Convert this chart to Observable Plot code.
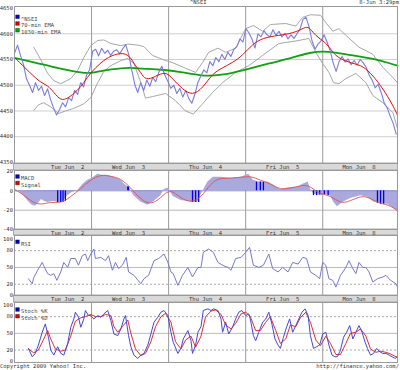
<!DOCTYPE html>
<html><head><meta charset="utf-8">
<script src="https://cdn.jsdelivr.net/npm/d3@7"></script>
<script src="https://cdn.jsdelivr.net/npm/@observablehq/plot@0.6"></script>
<style>
body{margin:0;background:#fff;}
#chart{position:relative;width:400px;height:370px;overflow:hidden;font-family:"DejaVu Sans Mono",monospace;font-size:5.5px;color:#333;background:#fff;}
#chart svg{position:absolute;left:0;}
.t{position:absolute;white-space:nowrap;line-height:6px;}
</style></head><body><div id="chart"></div>
<script>
// ---- time axis (trading days since Tue Jun 2 open) ----
const dayBounds = [1, 2, 3, 4];
const dayTicks = [0.69, 1.48, 2.48, 3.48, 4.47];
const dayLabels = ["Tue Jun  2", "Wed Jun  3", "Thu Jun  4", "Fri Jun  5", "Mon Jun  8"];

// ---- price (^NSEI), sampled at a regular step ----
const priceStep = 0.039;
const priceValues = [4562,4578,4558,4540,4512,4500,4486,4505,4490,4498,4480,4493,4472,4456,4442,4453,4466,4458,4476,4470,
4490,4482,4505,4497,4520,4530,4566,4570,4557,4572,4562,4568,4558,4566,4569,4561,4571,4579,4560,4530,
4502,4486,4505,4490,4510,4498,4515,4507,4525,4537,4520,4508,4494,4500,4484,4494,4477,4490,4474,4465,
4482,4505,4518,4530,4524,4546,4538,4554,4546,4560,4550,4564,4556,4570,4575,4590,4584,4610,4602,4590,
4572,4600,4594,4606,4598,4594,4608,4597,4605,4594,4601,4590,4598,4591,4600,4609,4628,4632,4614,4586,
4570,4580,4586,4598,4584,4568,4544,4527,4546,4556,4545,4551,4540,4548,4539,4550,4544,4535,4520,4510,
4495,4502,4486,4466,4456,4440,4426,4405];

const ema70 = [[0,4554],[.21,4523],[.34,4505],[.43,4500],[.51,4486],[.60,4470],[.69,4474],[.82,4490],[.90,4505],[.99,4525],
[1.12,4544],[1.25,4558],[1.42,4564],[1.51,4554],[1.57,4537],[1.64,4525],[1.70,4509],[1.83,4517],[1.96,4527],[2.05,4513],
[2.18,4492],[2.31,4480],[2.44,4494],[2.57,4523],[2.70,4534],[2.83,4544],[2.96,4558],[3.09,4580],[3.22,4592],[3.43,4597],
[3.61,4601],[3.74,4610],[3.81,4615],[3.87,4603],[3.95,4591],[4.04,4583],[4.13,4564],[4.21,4552],[4.39,4542],[4.52,4538],
[4.65,4519],[4.78,4494],[4.91,4461],[4.97,4442]];

const ema1030 = [[0,4553],[.25,4545],[.51,4535],[.77,4527],[.95,4523],[1.03,4525],[1.25,4531],[1.51,4535],[1.64,4532],[1.90,4531],
[2.19,4525],[2.42,4518],[2.68,4519],[2.97,4529],[3.29,4542],[3.62,4554],[3.84,4564],[4.01,4566],[4.14,4564],[4.39,4558],
[4.66,4552],[4.97,4538]];

const bandUpper = [[.25,4574],[.34,4550],[.43,4523],[.51,4509],[.60,4503],[.73,4513],[.82,4529],[.90,4554],[.99,4577],[1.08,4587],
[1.16,4588],[1.25,4581],[1.38,4577],[1.47,4580],[1.60,4578],[1.68,4575],[1.79,4558],[1.96,4548],[2.05,4544],[2.22,4533],
[2.35,4525],[2.44,4544],[2.52,4564],[2.64,4572],[2.74,4564],[2.87,4572],[3.00,4610],[3.10,4616],[3.22,4605],[3.32,4618],
[3.52,4620],[3.65,4615],[3.74,4632],[3.84,4637],[3.97,4636],[4.05,4620],[4.13,4605],[4.21,4610],[4.30,4597],[4.47,4574],
[4.65,4560],[4.78,4535],[4.91,4515],[4.97,4505]];

const bandLower = [[.25,4451],[.31,4462],[.38,4466],[.47,4458],[.57,4445],[.66,4450],[.77,4455],[.90,4464],[.99,4476],[1.08,4505],
[1.16,4527],[1.25,4538],[1.38,4548],[1.47,4552],[1.55,4542],[1.64,4505],[1.70,4475],[1.79,4478],[1.96,4484],[2.09,4470],
[2.22,4450],[2.32,4444],[2.44,4464],[2.57,4486],[2.70,4505],[2.87,4525],[3.04,4538],[3.22,4558],[3.43,4581],[3.69,4587],
[3.82,4591],[3.91,4564],[4.00,4542],[4.08,4525],[4.14,4505],[4.21,4503],[4.30,4513],[4.43,4523],[4.56,4505],[4.65,4480],
[4.78,4466],[4.91,4447],[4.97,4416]];

const mainTicks = [4350, 4400, 4450, 4500, 4550, 4600, 4650];
const mainGrid = [4400, 4450, 4500, 4550, 4600];

// ---- MACD ----
const macd = [[0,2],[.05,0],[.12,-5],[.18,-11],[.23,-15],[.27,-16],[.31,-13],[.35,-9],[.39,-11],[.43,-12],
[.51,-11],[.56,-12],[.62,-12],[.69,-5],[.75,-1.5],[.82,0],[.88,6],[.95,11],[1.01,13],[1.08,17],
[1.14,16],[1.21,16],[1.29,14],[1.38,11],[1.44,6],[1.48,4],[1.51,0],[1.55,-5],[1.64,-11.5],[1.73,-15],
[1.81,-11],[1.90,-5],[1.94,1],[1.99,3],[2.03,-2],[2.06,-6],[2.16,-10],[2.25,-11],[2.31,-12],[2.38,-12],
[2.42,-4],[2.51,9],[2.58,14],[2.68,14],[2.81,13],[2.94,14],[3.04,17],[3.10,11],[3.17,9],[3.23,9],
[3.29,9],[3.36,6],[3.45,1],[3.55,3],[3.68,4],[3.75,7],[3.81,9],[3.84,2],[3.88,-3],[3.97,-5],
[4.06,-4],[4.10,-5],[4.14,-11.5],[4.19,-16.5],[4.27,-11.5],[4.36,-8],[4.49,-5],[4.58,-6.5],[4.66,-11.5],[4.75,-13],
[4.84,-14],[4.92,-18],[4.97,-22]];
const macdBars = [[.56,-12],[.60,-12],[.63,-12],[.66,-11],[1.47,4],[1.48,4],[2.31,-12],[2.35,-12],[2.39,-12],
[3.14,9],[3.19,9],[3.23,9],[3.88,-5],[3.92,-5],[3.96,-4],[4.02,-4],[4.07,-5],[4.71,-13],[4.75,-14],[4.79,-14]];
const signal = [[0,1],[.08,-2],[.14,-6],[.21,-10],[.27,-13],[.34,-14],[.40,-13],[.47,-12],[.53,-12],[.60,-12],
[.66,-10],[.73,-6],[.79,-2],[.86,2],[.92,7],[.99,11],[1.05,14],[1.12,16],[1.18,16],[1.25,15],
[1.31,14],[1.38,12],[1.44,8],[1.51,3],[1.57,-3],[1.64,-8],[1.70,-12],[1.77,-13],[1.83,-11],[1.90,-7],
[1.96,-2],[2.03,0],[2.09,-3],[2.16,-7],[2.22,-10],[2.29,-11],[2.35,-10],[2.42,-6],[2.48,0],[2.55,7],
[2.61,11],[2.68,13],[2.81,13],[2.94,14],[3.06,15],[3.13,13],[3.19,11],[3.26,9],[3.32,7],[3.39,4],
[3.45,2],[3.52,2],[3.58,3],[3.65,4],[3.71,5],[3.78,6],[3.84,4],[3.91,0],[3.97,-3],[4.04,-4],
[4.10,-6],[4.17,-9],[4.23,-12],[4.30,-12],[4.36,-10],[4.43,-8],[4.49,-6],[4.56,-6],[4.62,-8],[4.69,-11],
[4.75,-13],[4.82,-14],[4.88,-16],[4.95,-19],[4.97,-21]];
const macdTicks = [20, 0, -20, -40];

// ---- RSI ----
const rsi = [[.18,30],[.23,21],[.25,32],[.30,45],[.36,59],[.38,53],[.43,39],[.47,36],[.51,39],[.55,27],
[.60,42],[.64,59],[.69,50],[.73,66],[.79,66],[.83,54],[.88,71],[.92,74],[.95,62],[.99,74],
[1.03,83],[1.05,66],[1.12,68],[1.18,62],[1.22,71],[1.27,45],[1.31,59],[1.35,48],[1.40,54],[1.45,68],
[1.48,42],[1.55,36],[1.64,21],[1.68,30],[1.74,36],[1.81,62],[1.87,66],[1.94,74],[1.99,59],[2.03,42],
[2.06,39],[2.12,18],[2.18,36],[2.25,50],[2.31,33],[2.38,50],[2.42,50],[2.45,77],[2.52,83],[2.58,77],
[2.64,59],[2.70,54],[2.77,50],[2.81,45],[2.87,66],[2.94,68],[3.00,77],[3.05,86],[3.10,54],[3.17,50],
[3.23,54],[3.30,74],[3.35,48],[3.42,42],[3.48,50],[3.55,42],[3.61,59],[3.68,56],[3.74,68],[3.79,66],
[3.84,42],[3.91,36],[3.96,30],[4.00,59],[4.04,54],[4.08,30],[4.13,27],[4.17,15],[4.23,36],[4.30,50],
[4.34,62],[4.39,48],[4.43,39],[4.47,59],[4.52,50],[4.56,50],[4.60,42],[4.65,24],[4.71,30],[4.78,33],
[4.82,36],[4.88,27],[4.95,21],[4.97,15]];
const oscTicks = [0, 20, 50, 80, 100];

// ---- Stochastics ----
const stochK = [[.18,23],[.23,8],[.27,14],[.31,29],[.36,52],[.40,67],[.44,43],[.47,20],[.51,11],[.56,26],
[.60,14],[.64,11],[.69,32],[.73,61],[.77,76],[.79,88],[.83,79],[.86,61],[.90,76],[.92,91],
[.96,82],[.99,82],[1.03,76],[1.08,82],[1.12,79],[1.16,85],[1.21,91],[1.25,73],[1.29,49],[1.34,46],
[1.38,58],[1.42,76],[1.44,82],[1.48,46],[1.51,26],[1.55,11],[1.60,5],[1.64,11],[1.68,14],[1.73,29],
[1.77,49],[1.81,70],[1.86,79],[1.90,88],[1.94,91],[1.99,82],[2.03,52],[2.06,34],[2.12,14],[2.16,23],
[2.19,40],[2.25,55],[2.29,37],[2.31,14],[2.35,29],[2.38,52],[2.42,62],[2.45,91],[2.51,94],[2.55,91],
[2.58,94],[2.64,91],[2.68,76],[2.70,52],[2.74,70],[2.78,49],[2.83,61],[2.87,76],[2.91,88],[2.95,91],
[3.00,82],[3.04,85],[3.06,76],[3.10,46],[3.13,37],[3.17,52],[3.22,70],[3.26,76],[3.30,88],[3.34,67],
[3.38,40],[3.42,29],[3.45,23],[3.49,43],[3.53,61],[3.57,76],[3.61,52],[3.65,64],[3.69,76],[3.73,88],
[3.77,94],[3.81,82],[3.84,46],[3.88,23],[3.92,26],[3.96,29],[4.00,49],[4.04,52],[4.08,29],[4.12,11],
[4.16,8],[4.19,8],[4.23,20],[4.27,43],[4.31,52],[4.35,64],[4.39,40],[4.43,52],[4.47,64],[4.51,52],
[4.55,34],[4.58,23],[4.62,11],[4.66,14],[4.70,23],[4.74,17],[4.78,14],[4.82,14],[4.86,11],[4.90,8],
[4.94,5],[4.97,8]];
const stochD = [[.18,22],[.25,15],[.31,20],[.38,40],[.43,55],[.47,40],[.53,22],[.60,18],[.66,20],[.73,45],
[.79,72],[.86,78],[.92,80],[.99,84],[1.05,80],[1.12,80],[1.18,84],[1.25,82],[1.29,62],[1.34,52],
[1.40,62],[1.47,74],[1.51,50],[1.57,22],[1.64,10],[1.70,14],[1.77,35],[1.83,62],[1.90,80],[1.96,86],
[2.03,70],[2.09,35],[2.16,22],[2.22,38],[2.29,45],[2.35,25],[2.42,45],[2.48,80],[2.55,90],[2.61,92],
[2.68,84],[2.74,65],[2.81,58],[2.87,68],[2.94,85],[3.00,88],[3.06,80],[3.13,55],[3.19,55],[3.26,70],
[3.32,80],[3.39,55],[3.45,32],[3.52,40],[3.58,65],[3.65,62],[3.71,78],[3.78,88],[3.84,70],[3.91,38],
[3.97,28],[4.04,45],[4.10,32],[4.17,12],[4.23,12],[4.30,32],[4.36,50],[4.43,52],[4.49,58],[4.56,45],
[4.62,22],[4.69,16],[4.75,18],[4.82,16],[4.88,13],[4.95,8],[4.97,8]];

// ---------------------------------------------------------------
const chart = document.getElementById("chart");
const price = priceValues.map((v, i) => [i * priceStep, v]);
const X = d => d[0], Y = d => d[1];
const STYLE = {fontFamily: '"DejaVu Sans Mono", monospace', fontSize: "5.5px", color: "#333", background: "transparent", overflow: "visible"};
const fmt = d => String(d);

function legend(items) {
  const marks = [];
  items.forEach(([label, color, dy]) => {
    marks.push(Plot.dot([label], {frameAnchor: "top-left", dx: 3, dy, symbol: "square", r: 2.1, fill: color, stroke: "#222", strokeWidth: 0.4}));
    marks.push(Plot.text([label], {frameAnchor: "top-left", dx: 6.5, dy, textAnchor: "start", fill: "#444"}));
  });
  return marks;
}
const dayGrid = Plot.ruleX(dayBounds, {stroke: "#9a9a9a", strokeWidth: 1});
const dayAxis = Plot.axisX({ticks: dayTicks, tickFormat: d => dayLabels[dayTicks.indexOf(d)], tickSize: 0, tickPadding: 1.2, anchor: "bottom", label: null, fill: "#333"});

function panel({top, height, marginTop, marginBottom, yDomain, marks, band}) {
  const svg = Plot.plot({
    width: 400, height, marginTop, marginBottom, marginLeft: 14, marginRight: 3,
    style: STYLE,
    x: {domain: [0, 4.97], axis: null},
    y: {domain: yDomain, axis: null},
    marks
  });
  svg.style.top = top + "px";
  if (band) {
    const s = d3.select(svg);
    const y0 = height - marginBottom;
    s.insert("rect", "g").attr("x", 13.5).attr("y", y0).attr("width", 384).attr("height", marginBottom)
      .attr("fill", "#d9d9d9").attr("stroke", "#999").attr("stroke-width", 0.8);
  }
  chart.appendChild(svg);
}

// Main price panel
panel({
  top: 0, height: 170, marginTop: 6, marginBottom: 7, yDomain: [4348, 4653], band: true,
  marks: [
    Plot.ruleY(mainGrid, {stroke: "#cfcfcf"}),
    dayGrid,
    Plot.line(bandUpper, {x: X, y: Y, stroke: "#9c9c9c", strokeWidth: 0.9}),
    Plot.line(bandLower, {x: X, y: Y, stroke: "#9c9c9c", strokeWidth: 0.9}),
    Plot.line(ema1030, {x: X, y: Y, stroke: "#10a010", strokeWidth: 1.8, curve: "basis"}),
    Plot.line(price, {x: X, y: Y, stroke: "#7b7be0", strokeWidth: 1.1}),
    Plot.line(ema70, {x: X, y: Y, stroke: "#e01010", strokeWidth: 1, curve: "basis"}),
    Plot.frame({stroke: "#999"}),
    Plot.axisY({ticks: mainTicks, tickFormat: fmt, tickSize: 0, tickPadding: 1.5, anchor: "left", label: null, fill: "#333"}),
    dayAxis,
    ...legend([["^NSEI", "#0000cc", 10.3], ["70-min EMA", "#dd0000", 17], ["1030-min EMA", "#00aa00", 23.7]])
  ]
});

// MACD panel
panel({
  top: 170, height: 65, marginTop: 0, marginBottom: 6, yDomain: [-40, 21], band: true,
  marks: [
    Plot.ruleY([-20], {stroke: "#cfcfcf", strokeWidth: 1.5}),
    dayGrid,
    Plot.areaY(macd, {x: X, y: Y, fill: "#a9a9dd"}),
    Plot.ruleY([0], {stroke: "#8f8fd0"}),
    Plot.ruleX(macdBars, {x: X, y1: 0, y2: Y, stroke: "#0000ee", strokeWidth: 1.3}),
    Plot.line(signal, {x: X, y: Y, stroke: "#e05050", strokeWidth: 0.9, curve: "basis"}),
    Plot.frame({stroke: "#999"}),
    Plot.axisY({ticks: macdTicks, tickFormat: fmt, tickSize: 0, tickPadding: 1.5, anchor: "left", label: null, fill: "#333"}),
    dayAxis,
    ...legend([["MACD", "#0000cc", 6], ["Signal", "#dd0000", 12.5]])
  ]
});

// RSI panel
panel({
  top: 235, height: 67, marginTop: 0, marginBottom: 7, yDomain: [0, 107], band: true,
  marks: [
    Plot.ruleY([20, 80], {stroke: "#aaa", strokeDasharray: "2,2"}),
    Plot.ruleY([50], {stroke: "#bbb"}),
    dayGrid,
    Plot.line(rsi, {x: X, y: Y, stroke: "#7878d0", strokeWidth: 1}),
    Plot.frame({stroke: "#999"}),
    Plot.axisY({ticks: oscTicks, tickFormat: fmt, tickSize: 0, tickPadding: 1.5, anchor: "left", label: null, fill: "#333"}),
    dayAxis,
    ...legend([["RSI", "#0000cc", 6.3]])
  ]
});

// Stochastics panel
panel({
  top: 302, height: 68, marginTop: 0, marginBottom: 8, yDomain: [-2.3, 105.4], band: false,
  marks: [
    Plot.ruleY([20, 80], {stroke: "#aaa", strokeDasharray: "2,2"}),
    Plot.ruleY([50], {stroke: "#bbb"}),
    dayGrid,
    Plot.line(stochD, {x: X, y: Y, stroke: "#e03030", strokeWidth: 1}),
    Plot.line(stochK, {x: X, y: Y, stroke: "#4646d8", strokeWidth: 1}),
    Plot.frame({stroke: "#999"}),
    Plot.axisY({ticks: oscTicks, tickFormat: fmt, tickSize: 0, tickPadding: 1.5, anchor: "left", label: null, fill: "#333"}),
    ...legend([["Stoch %K", "#0000cc", 7], ["Stoch %D", "#dd0000", 13.7]])
  ]
});

// texts
function addText(txt, css) {
  const d = document.createElement("div");
  d.className = "t"; d.textContent = txt; Object.assign(d.style, css); chart.appendChild(d);
}
addText("^NSEI", {left: "190px", top: "-1px"});
addText("8-Jun 3:29pm", {right: "1px", top: "-1px"});
addText("Copyright 2009 Yahoo! Inc.", {left: "0px", top: "363px"});
addText("http://finance.yahoo.com/", {right: "1px", top: "363px"});
</script></body></html>
